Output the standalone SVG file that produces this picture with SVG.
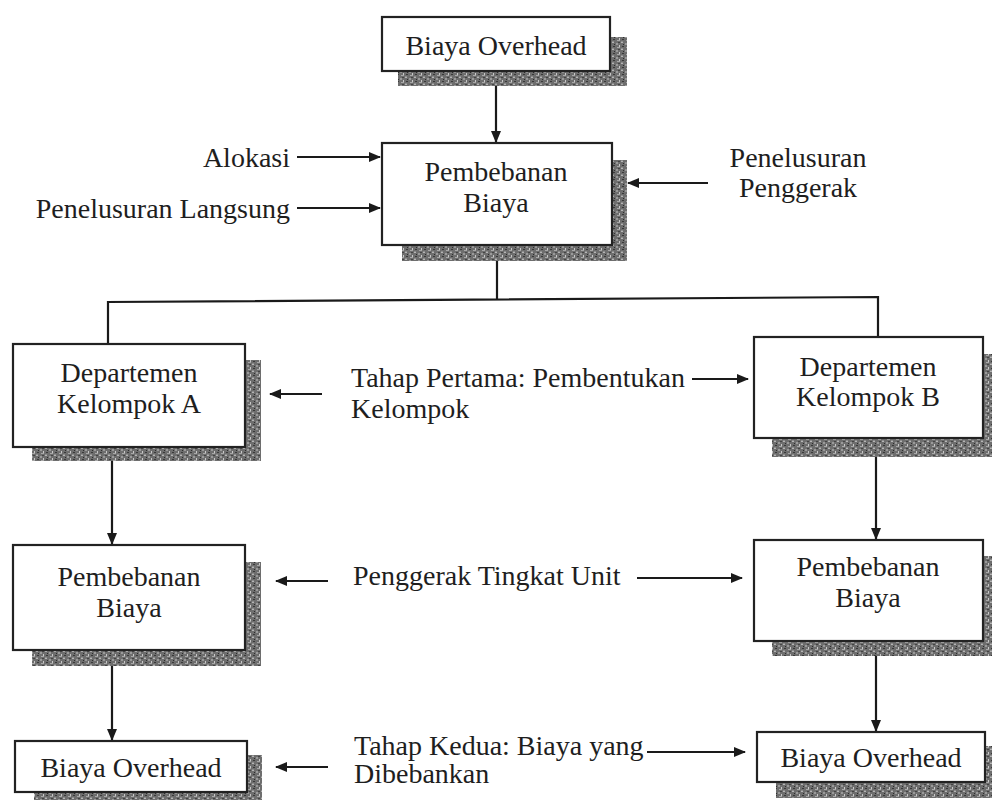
<svg xmlns="http://www.w3.org/2000/svg" width="992" height="800" viewBox="0 0 992 800">
<style>
text{font-family:"Liberation Serif","Times New Roman","DejaVu Serif",serif;font-size:28px;fill:#1e1e1e}
.box{fill:#fff;stroke:#222;stroke-width:2.2}
.sh{fill:url(#tex)}
.c{text-anchor:middle}
.e{text-anchor:end}
.ln{stroke:#1a1a1a;stroke-width:2.2;fill:none}
.ar{stroke:#1a1a1a;stroke-width:2.2;fill:none;marker-end:url(#ah)}
</style>
<defs>
<marker id="ah" viewBox="0 0 12 10" refX="11" refY="5" markerWidth="12" markerHeight="10" markerUnits="userSpaceOnUse" orient="auto">
<path d="M0,0 L12,5 L0,10 Z" fill="#1a1a1a"/>
</marker>
<pattern id="tex" width="9" height="7" patternUnits="userSpaceOnUse">
<rect width="9" height="7" fill="#6e6e6e"/>
<rect x="0" y="0" width="2" height="1" fill="#b5b5b5"/>
<rect x="4" y="1" width="2" height="2" fill="#9a9a9a"/>
<rect x="7" y="3" width="1" height="2" fill="#c8c8c8"/>
<rect x="1" y="4" width="2" height="1" fill="#3a3a3a"/>
<rect x="5" y="5" width="3" height="1" fill="#a8a8a8"/>
<rect x="2" y="2" width="1" height="1" fill="#2e2e2e"/>
<rect x="6" y="0" width="2" height="1" fill="#444"/>
<rect x="0" y="6" width="2" height="1" fill="#8c8c8c"/>
</pattern>
</defs>

<g id="connectors">
<line class="ar" x1="496" y1="84" x2="496" y2="142"/>
<line class="ar" x1="297" y1="157" x2="380" y2="157"/>
<line class="ar" x1="297" y1="208" x2="380" y2="208"/>
<line class="ar" x1="708" y1="183" x2="628" y2="183"/>
<polyline class="ln" points="497,260 497,299"/>
<polyline class="ln" points="108,343 108,302 878,297 878,337"/>
<line class="ar" x1="322" y1="394" x2="270" y2="394"/>
<line class="ar" x1="692" y1="379" x2="748" y2="379"/>
<line class="ar" x1="112" y1="461" x2="112" y2="544"/>
<line class="ar" x1="876" y1="456" x2="876" y2="539"/>
<line class="ar" x1="328" y1="581" x2="276" y2="581"/>
<line class="ar" x1="637" y1="578" x2="742" y2="578"/>
<line class="ar" x1="112" y1="665" x2="112" y2="740"/>
<line class="ar" x1="876" y1="655" x2="876" y2="731"/>
<line class="ar" x1="328" y1="767" x2="276" y2="767"/>
<line class="ar" x1="647" y1="752" x2="745" y2="752"/>
</g>

<g id="n-biaya-overhead-top">
<path class="sh" d="M610,37 H627 V86 H398 V71 H610 Z"/>
<rect class="box" x="382" y="17" width="228" height="54"/>
<text class="c" x="496" y="55">Biaya Overhead</text>
</g>

<g id="n-pembebanan-top">
<path class="sh" d="M612,160 H627 V261 H402 V245 H612 Z"/>
<rect class="box" x="382" y="143" width="230" height="102"/>
<text class="c" x="496" y="181">Pembebanan</text>
<text class="c" x="496" y="212">Biaya</text>
</g>

<g id="t-alokasi"><text class="e" x="290" y="167">Alokasi</text></g>
<g id="t-langsung"><text class="e" x="290" y="218">Penelusuran Langsung</text></g>
<g id="t-penggerak">
<text class="c" x="798" y="167">Penelusuran</text>
<text class="c" x="798" y="197">Penggerak</text>
</g>

<g id="n-dept-a">
<path class="sh" d="M245,360 H261 V461 H32 V447 H245 Z"/>
<rect class="box" x="13" y="344" width="232" height="103"/>
<text class="c" x="129" y="382">Departemen</text>
<text class="c" x="129" y="413">Kelompok A</text>
</g>

<g id="n-dept-b">
<path class="sh" d="M983,354 H992 V457 H772 V438 H983 Z"/>
<rect class="box" x="754" y="337" width="229" height="101"/>
<text class="c" x="868" y="376">Departemen</text>
<text class="c" x="868" y="406">Kelompok B</text>
</g>

<g id="t-tahap1">
<text x="351" y="387">Tahap Pertama: Pembentukan</text>
<text x="351" y="418">Kelompok</text>
</g>

<g id="n-pemb-a">
<path class="sh" d="M245,562 H261 V666 H32 V650 H245 Z"/>
<rect class="box" x="13" y="545" width="232" height="105"/>
<text class="c" x="129" y="586">Pembebanan</text>
<text class="c" x="129" y="617">Biaya</text>
</g>

<g id="n-pemb-b">
<path class="sh" d="M983,556 H992 V656 H772 V641 H983 Z"/>
<rect class="box" x="754" y="540" width="229" height="101"/>
<text class="c" x="868" y="576">Pembebanan</text>
<text class="c" x="868" y="607">Biaya</text>
</g>

<g id="t-unit"><text x="353" y="585">Penggerak Tingkat Unit</text></g>

<g id="n-overhead-a">
<path class="sh" d="M247,755 H262 V800 H34 V792 H247 Z"/>
<rect class="box" x="15" y="741" width="232" height="51"/>
<text class="c" x="131" y="777">Biaya Overhead</text>
</g>

<g id="n-overhead-b">
<path class="sh" d="M985,746 H992 V798 H776 V782 H985 Z"/>
<rect class="box" x="757" y="732" width="228" height="50"/>
<text class="c" x="871" y="767">Biaya Overhead</text>
</g>

<g id="t-tahap2">
<text x="354" y="755">Tahap Kedua: Biaya yang</text>
<text x="354" y="783">Dibebankan</text>
</g>
</svg>
